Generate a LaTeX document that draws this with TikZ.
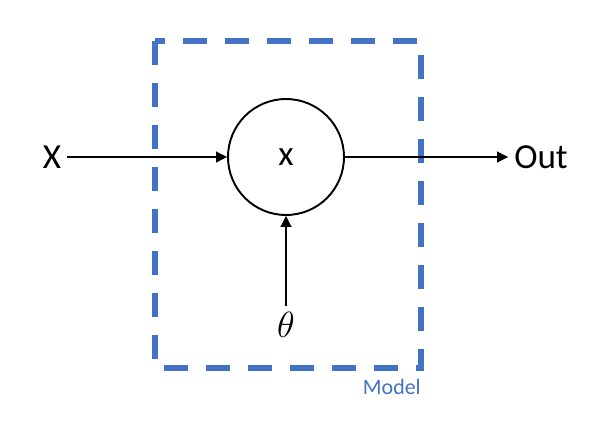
\documentclass[tikz,border=0pt]{standalone}
\usepackage{fontspec}
\setmainfont{Carlito}
\usetikzlibrary{arrows.meta,positioning}
\definecolor{modelblue}{HTML}{4472C4}

\begin{document}
\begin{tikzpicture}[
    x=0.02cm, y=-0.02cm,
    >={Triangle[length=2.2mm,width=2.2mm]},
    every node/.style={font=\fontsize{20}{24}\selectfont},
    unit/.style={circle, draw, line width=1.1pt, minimum size=2.32cm, inner sep=0pt},
    flow/.style={->, line width=0.6pt},
    modelbox/.style={draw=modelblue, line width=3.4pt,
        dash pattern=on 0.48cm off 0.36cm},
    boxlabel/.style={font=\fontsize{12.5}{14}\selectfont, text=modelblue}
]
\useasboundingbox (0,0) rectangle (609,424);

% Model boundary
\draw[modelbox] (155,41) rectangle (421,368);
\node[boxlabel, anchor=east] (modellbl) at (427,387) {Model};

% Unit and its inputs/outputs
\node[unit] (mul) at (286,157) {x};
\node (in)    at (52,157)  {X};
\node (out)   at (541,157) {Out};
\node[font=\fontsize{21}{24}\selectfont] (theta) at (286,325) {$\theta$};

% Connectors
\draw[flow] (in.east) -- (mul.west);
\draw[flow] (mul.east) -- (out.west);
\draw[flow] (theta.north) -- (mul.south);

\end{tikzpicture}
\end{document}
